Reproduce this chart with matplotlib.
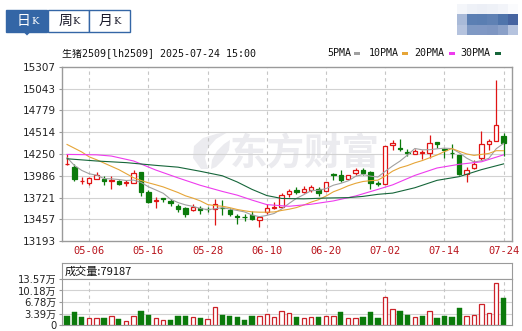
import matplotlib
matplotlib.use("Agg")
import matplotlib.pyplot as plt
from matplotlib.patches import Rectangle, Polygon
import numpy as np

plt.rcParams['font.family'] = ['DejaVu Sans', 'Noto Sans CJK SC']

# ---------------- data ----------------
dates = ["04-28", "04-29", "04-30", "05-06", "05-07", "05-08", "05-09", "05-12", "05-13", "05-14",
         "05-15", "05-16", "05-19", "05-20", "05-21", "05-22", "05-23", "05-26", "05-27", "05-28",
         "05-29", "05-30", "06-03", "06-04", "06-05", "06-06", "06-09", "06-10", "06-11", "06-12",
         "06-13", "06-16", "06-17", "06-18", "06-19", "06-20", "06-23", "06-24", "06-25", "06-26",
         "06-27", "06-30", "07-01", "07-02", "07-03", "07-04", "07-07", "07-08", "07-09", "07-10",
         "07-11", "07-14", "07-15", "07-16", "07-17", "07-18", "07-21", "07-22", "07-23", "07-24"]
opens = [14125, 14092, 13920, 13898, 13946, 13950, 13918, 13918, 13895, 13898,
         14027, 13785, 13680, 13710, 13679, 13623, 13590, 13566, 13594, 13585,
         13578, 13600, 13574, 13497, 13490, 13505, 13444, 13545, 13594, 13606,
         13760, 13817, 13793, 13809, 13825, 13797, 14005, 13991, 13950, 14019,
         14052, 14031, 13895, 13890, 14365, 14320, 14270, 14255, 14262, 14267,
         14396, 14310, 14265, 14242, 14012, 14080, 14206, 14376, 14408, 14465]
highs = [14250, 14133, 13970, 13970, 14036, 13987, 13979, 13930, 13930, 14060,
         14027, 13809, 13727, 13719, 13708, 13647, 13606, 13647, 13614, 13606,
         13703, 13694, 13598, 13525, 13525, 13557, 13493, 13639, 13671, 13776,
         13829, 13849, 13857, 13878, 13849, 13910, 14019, 14052, 14000, 14080,
         14080, 14040, 13918, 14350, 14416, 14436, 14315, 14307, 14295, 14484,
         14400, 14323, 14368, 14242, 14092, 14182, 14526, 14436, 15154, 14505]
lows = [14118, 13922, 13882, 13870, 13946, 13878, 13825, 13870, 13858, 13898,
        13745, 13659, 13598, 13670, 13623, 13545, 13485, 13558, 13525, 13541,
        13392, 13513, 13501, 13396, 13436, 13444, 13363, 13517, 13582, 13598,
        13727, 13768, 13776, 13788, 13736, 13797, 13939, 13910, 13950, 14000,
        14000, 13829, 13857, 13890, 14300, 14286, 14222, 14246, 14194, 14206,
        14327, 14206, 14206, 14000, 13910, 14068, 14174, 14303, 14408, 14230]
closes = [14133, 13942, 13928, 13963, 13995, 13925, 13930, 13885, 13905, 14019,
          13785, 13667, 13690, 13702, 13655, 13587, 13525, 13602, 13574, 13578,
          13647, 13590, 13517, 13490, 13485, 13464, 13485, 13598, 13606, 13756,
          13800, 13793, 13825, 13849, 13776, 13906, 14000, 13939, 14000, 14052,
          14019, 13895, 13885, 14350, 14378, 14310, 14262, 14283, 14270, 14384,
          14368, 14300, 14260, 14012, 14060, 14133, 14376, 14404, 14599, 14384]
close_before = 14180
volumes = [26500, 37000, 23600, 19700, 19700, 19700, 25600, 17700, 11800, 25600,
           41000, 29500, 19700, 14700, 14700, 26500, 26500, 23600, 20600, 16700,
           52000, 29500, 26500, 23600, 14700, 26500, 26500, 31500, 23600, 41300,
           35400, 23600, 19700, 23600, 23600, 26500, 26500, 38300, 19700, 19700,
           23600, 38300, 20600, 81600, 46200, 41300, 30500, 23600, 26500, 40300,
           20600, 26500, 23600, 50100, 26500, 29500, 61900, 35400, 122900, 79187]

ma5 = [14206, 14110, 14050, 14010, 13992, 13951, 13948, 13940, 13928, 13933,
       13905, 13852, 13813, 13773, 13700, 13660, 13632, 13614, 13589, 13573,
       13585, 13598, 13581, 13564, 13546, 13509, 13488, 13504, 13528, 13582,
       13649, 13711, 13756, 13805, 13809, 13830, 13871, 13894, 13924, 13979,
       14002, 13981, 13970, 14040, 14105, 14164, 14237, 14317, 14301, 14302,
       14313, 14321, 14316, 14265, 14200, 14153, 14168, 14197, 14314, 14379]
ma10 = [14366, 14320, 14274, 14215, 14180, 14140, 14100, 14060, 14011, 13962,
        13928, 13900, 13876, 13850, 13816, 13782, 13742, 13714, 13681, 13636,
        13623, 13615, 13598, 13576, 13560, 13547, 13543, 13543, 13546, 13564,
        13579, 13599, 13630, 13666, 13695, 13739, 13791, 13825, 13864, 13894,
        13916, 13926, 13932, 13982, 14042, 14083, 14109, 14143, 14170, 14204,
        14238, 14279, 14316, 14283, 14251, 14233, 14245, 14257, 14290, 14290]
ma20_idx = [0, 4, 6, 9, 12, 15, 18, 21, 23, 25, 27, 30, 33, 36, 39, 42, 44, 47, 50, 53, 56, 59]
ma20 = [14245, 14240, 14225, 14165, 14055, 13960, 13870, 13795, 13750, 13690, 13635,
        13615, 13640, 13680, 13740, 13820, 13875, 13990, 14080, 14125, 14155, 14240]
ma30_idx = [0, 4, 8, 12, 15, 18, 21, 23, 25, 27, 29, 32, 35, 38, 40, 42, 44, 47, 50, 53, 56, 59]
ma30 = [14192, 14165, 14145, 14112, 14090, 14040, 13985, 13910, 13820, 13745, 13710,
        13705, 13715, 13720, 13735, 13760, 13775, 13840, 13930, 13975, 14060, 14130]

price_ticks = [15307, 15043, 14779, 14514, 14250, 13986, 13721, 13457, 13193]
date_ticks = ["05-06", "05-16", "05-28", "06-10", "06-20", "07-02", "07-14", "07-24"]
vol_ticks = [0, 33900, 67800, 101800, 135700]
vol_labels = ["0", "3.39万", "6.78万", "10.18万", "13.57万"]
ma_names = ["5PMA", "10PMA", "20PMA", "30PMA"]

# ---------------- styling ----------------
W, H = 522, 331
UP = '#e01414'
DOWN = '#0b7a0b'
VOL_UP = '#cc2229'
GRID = '#d2d2d2'
FRAME = '#9a9a9a'
BLUE = '#3466a6'
WATER = '#ebebef'
MA_COLORS = ['#a0a0a0', '#e6a537', '#ee3bee', '#16663a']
MONO = ['DejaVu Sans Mono', 'Noto Sans CJK SC']


def fx(px):
    return px / W


def fy(py):
    return 1 - py / H


fig = plt.figure(figsize=(W / 100, H / 100), dpi=100)
fig.patch.set_facecolor('white')

x = np.arange(len(dates))
tick_pos = [dates.index(d) for d in date_ticks]
xlim = (-0.68, 60.13)

# ---------------- main k-line panel ----------------
ax = fig.add_axes([fx(62), fy(241), (512 - 62) / W, (241 - 67) / H])
ax.set_xlim(*xlim)
ax.set_ylim(price_ticks[-1], price_ticks[0])
for p in price_ticks[1:-1]:
    ax.axhline(p, color=GRID, lw=0.8, zorder=1)
for t in tick_pos:
    ax.axvline(t, color='#c6c6c6', lw=0.8, ls=(0, (3, 3)), zorder=1)

# watermark
ax.text(fx(305), fy(154), "东方财富", transform=fig.transFigure, fontsize=27,
        fontweight='bold', color=WATER, ha='center', va='center',
        family=['Noto Sans CJK SC'], zorder=0.5)
leaf1 = [(201, 169), (193, 158), (194, 146), (203, 138), (216, 134), (228, 132),
         (216, 139), (208, 148), (205, 158), (208, 169)]
leaf2 = [(211, 169), (212, 160), (217, 151), (224, 144), (230, 140), (229, 150),
         (223, 160), (216, 167)]
for leaf in (leaf1, leaf2):
    ax.add_patch(Polygon([(fx(a), fy(b)) for a, b in leaf], closed=True,
                         transform=fig.transFigure, fc=WATER, ec='none', zorder=0.5))

# candles
for i in x:
    o, h, l, c = opens[i], highs[i], lows[i], closes[i]
    rising = c >= o
    col = UP if rising else DOWN
    ax.vlines(i, l, h, color=col, lw=0.9, zorder=2)
    lo_b = min(o, c)
    body = max(abs(c - o), 3)
    ax.add_patch(Rectangle((i - 0.29, lo_b), 0.58, body,
                           fc='white' if rising else col, ec=col, lw=0.9, zorder=3))

# moving averages
ax.plot(x, ma5, color=MA_COLORS[0], lw=0.8, zorder=4)
ax.plot(x, ma10, color=MA_COLORS[1], lw=0.8, zorder=4)
ax.plot(ma20_idx, ma20, color=MA_COLORS[2], lw=0.8, zorder=4)
ax.plot(ma30_idx, ma30, color=MA_COLORS[3], lw=0.8, zorder=4)

ax.set_yticks(price_ticks)
ax.set_yticklabels([str(p) for p in price_ticks])
ax.tick_params(axis='y', length=2, pad=2.5, labelsize=7.5, color=FRAME, labelcolor='#222222')
ax.set_xticks(tick_pos)
ax.set_xticklabels(date_ticks)
ax.tick_params(axis='x', length=0, pad=3.5, labelsize=7.5, labelcolor='#b8141c')
for lab in ax.get_xticklabels():
    lab.set_family(MONO)
for s in ax.spines.values():
    s.set_color(FRAME)
    s.set_linewidth(1)

# title + legend
fig.text(fx(62), fy(53), "生猪2509[lh2509] 2025-07-24 15:00", family=MONO,
         fontsize=7.2, ha='left', va='center', color='#111111')
legend_x = [(327, 354), (369, 402), (414, 449), (460, 495)]
for name, col, (tx, dx) in zip(ma_names, MA_COLORS, legend_x):
    fig.text(fx(tx), fy(53), name, family=MONO, fontsize=7.2, ha='left', va='center',
             color='#111111')
    fig.add_artist(Rectangle((fx(dx), fy(54.5)), 5.5 / W, 2.5 / H, transform=fig.transFigure,
                             fc=col, ec='none'))

# ---------------- tabs ----------------
tabs = ["日", "周", "月"]
tab_x = [6, 47.5, 88.5]
for k, (name, tx) in enumerate(zip(tabs, tab_x)):
    sel = k == 0
    fig.add_artist(Rectangle((fx(tx), fy(31.5)), 41 / W, 21.5 / H, transform=fig.transFigure,
                             fc=BLUE if sel else 'white', ec=BLUE, lw=1))
    tc = 'white' if sel else '#1a1a2a'
    fig.text(fx(tx + 17.5), fy(21), name, family=['Noto Sans CJK SC'], fontsize=10,
             ha='center', va='center', color=tc)
    fig.text(fx(tx + 25), fy(21.5), "K", family=['DejaVu Serif'], fontsize=7,
             ha='left', va='center', color=tc)
fig.add_artist(Polygon([(fx(23), fy(31.5)), (fx(31), fy(31.5)), (fx(27), fy(35.5))],
                       closed=True, transform=fig.transFigure, fc=BLUE, ec='none'))

# blurred logo, top right
logo = np.array([
    [[244, 246, 250], [238, 241, 247], [236, 239, 246], [238, 241, 247], [242, 244, 249], [250, 251, 253]],
    [[169, 186, 216], [91, 127, 179], [90, 126, 178], [95, 129, 180], [79, 116, 171], [70, 100, 160]],
    [[181, 195, 222], [127, 153, 196], [128, 152, 196], [126, 150, 194], [138, 160, 200], [181, 195, 222]],
]) / 255
lax = fig.add_axes([fx(457), fy(35), 61 / W, 31 / H])
lax.imshow(logo, aspect='auto', interpolation='nearest')
lax.axis('off')

# ---------------- volume panel ----------------
axt = fig.add_axes([fx(62), fy(278.5), (512 - 62) / W, (278.5 - 263) / H])
axt.set_xticks([])
axt.set_yticks([])
for s in axt.spines.values():
    s.set_color(FRAME)
axt.text(0.006, 0.45, "成交量:" + str(volumes[-1]), transform=axt.transAxes,
         family=['Noto Sans CJK SC'], fontsize=8, ha='left', va='center', color='#111111')

axv = fig.add_axes([fx(62), fy(325), (512 - 62) / W, (325 - 278.5) / H])
axv.set_xlim(*xlim)
axv.set_ylim(0, vol_ticks[-1] * 46.5 / 46)
for v in vol_ticks[1:-1]:
    axv.axhline(v, color=GRID, lw=0.8, zorder=1)
for t in tick_pos:
    axv.axvline(t, color='#c6c6c6', lw=0.8, ls=(0, (3, 3)), zorder=1)
prev = [close_before] + closes[:-1]
vol_up = [c >= p for c, p in zip(closes, prev)]
for i in x:
    if vol_up[i]:
        axv.bar(i, volumes[i], width=0.6, color='white', edgecolor=VOL_UP, lw=0.9, zorder=2)
    else:
        axv.bar(i, volumes[i], width=0.72, color=DOWN, edgecolor=DOWN, lw=0.3, zorder=2)
axv.set_xticks([])
axv.set_yticks(vol_ticks)
axv.set_yticklabels(vol_labels)
axv.tick_params(axis='y', length=2, pad=2, labelsize=7.2, color=FRAME, labelcolor='#222222')
for s in axv.spines.values():
    s.set_color(FRAME)

fig.savefig("out.png", dpi=100)
